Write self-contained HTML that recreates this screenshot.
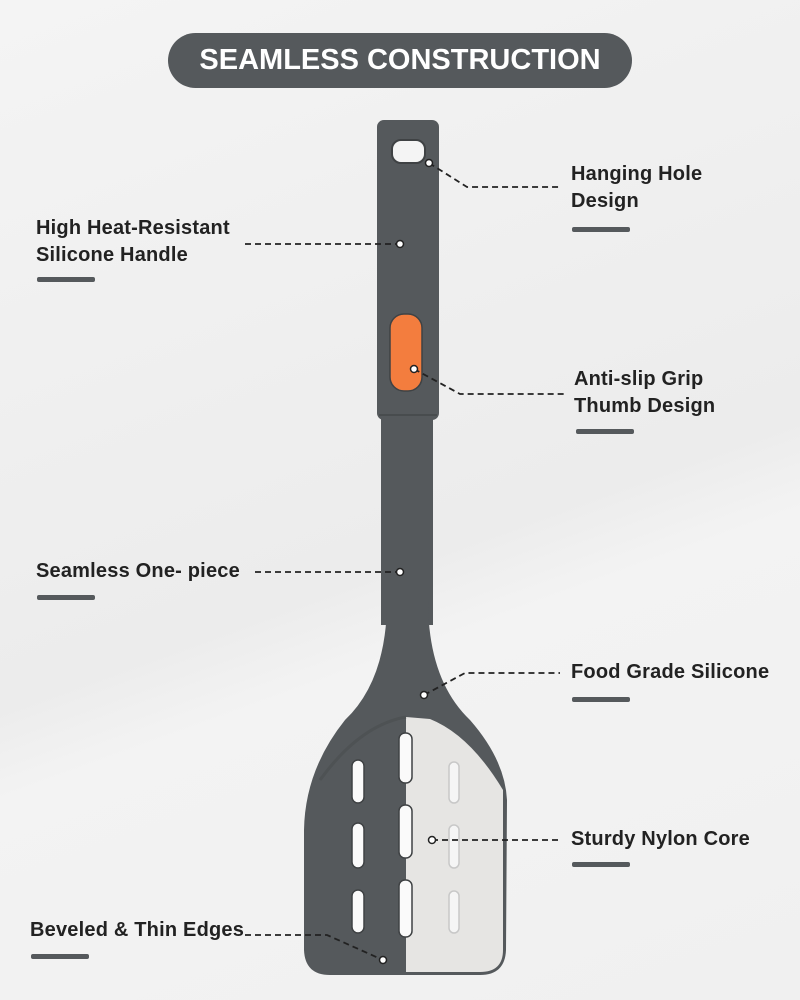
<!DOCTYPE html>
<html><head><style>
body{margin:0;width:800px;height:1000px;overflow:hidden;background:linear-gradient(160deg,#f4f4f4 0%,#ececec 55%,#f3f3f3 62%,#f0f0f0 100%);font-family:"Liberation Sans",sans-serif;position:relative}
.t{position:absolute;left:168px;top:33px;width:464px;height:55px;border-radius:28px;background:#55595c;color:#fff;font-weight:bold;font-size:29px;line-height:55px;text-align:center}
.l{position:absolute;font-weight:bold;font-size:20px;color:#222;line-height:27px;letter-spacing:0.2px}
.b{position:absolute;width:58px;height:5px;background:#55595c;border-radius:2px}
svg{position:absolute;left:0;top:0}
</style></head><body>
<div class="t">SEAMLESS CONSTRUCTION</div>
<svg width="800" height="1000">
<rect x="377" y="120" width="62" height="300" rx="7" fill="#55595c"/>
<rect x="381" y="415" width="52" height="210" fill="#55595c"/>
<line x1="379" y1="415" x2="437" y2="415" stroke="#45484a" stroke-width="1.5"/>
<path d="M387 600 L428 600 Q428 680 470 720 Q505 760 507 800 L506 950 Q505 975 480 975 L330 975 Q305 975 304 950 L304 830 Q305 770 345 720 Q387 680 387 600 Z" fill="#55595c"/>
<path d="M406 717 L406 972 L480 972 Q503 972 503 950 L503 790 Q470 735 430 719 Z" fill="#e6e5e3"/>
<path d="M406 717 Q360 725 320 780" stroke="#4e5254" stroke-width="3" fill="none"/>
<rect x="392" y="140" width="33" height="23" rx="9" fill="#f4f4f4" stroke="#3f4244" stroke-width="2"/>
<rect x="390" y="314" width="32" height="77" rx="14" fill="#f37d3e" stroke="#3f4244" stroke-width="1.5"/>
<g fill="#fafafa" stroke="#3f4244" stroke-width="1.5">
<rect x="352" y="760" width="12" height="43" rx="6"/><rect x="352" y="823" width="12" height="45" rx="6"/><rect x="352" y="890" width="12" height="43" rx="6"/>
<rect x="399" y="733" width="13" height="50" rx="6"/><rect x="399" y="805" width="13" height="53" rx="6"/><rect x="399" y="880" width="13" height="57" rx="6"/>
</g>
<g fill="#f5f5f5" stroke="#c8c8c8" stroke-width="1.5">
<rect x="449" y="762" width="10" height="41" rx="5"/><rect x="449" y="825" width="10" height="43" rx="5"/><rect x="449" y="891" width="10" height="42" rx="5"/>
</g>
<g stroke="#222" stroke-width="1.8" stroke-dasharray="6,4" fill="none">
<path d="M429 163 L467 187 L560 187"/>
<path d="M245 244 L400 244"/>
<path d="M414 369 L460 394 L565 394"/>
<path d="M255 572 L400 572"/>
<path d="M424 695 L465 673 L560 673"/>
<path d="M432 840 L560 840"/>
<path d="M245 935 L327 935 L383 960"/>
</g>
<g fill="#fff" stroke="#222" stroke-width="1.5">
<circle cx="429" cy="163" r="3.5"/><circle cx="400" cy="244" r="3.5"/><circle cx="414" cy="369" r="3.5"/><circle cx="400" cy="572" r="3.5"/><circle cx="424" cy="695" r="3.5"/><circle cx="432" cy="840" r="3.5"/><circle cx="383" cy="960" r="3.5"/>
</g>
</svg>
<div class="l" style="left:571px;top:161px">Hanging Hole<br>Design</div><div class="b" style="left:572px;top:227px"></div>
<div class="l" style="left:36px;top:215px">High Heat-Resistant<br>Silicone Handle</div><div class="b" style="left:37px;top:277px"></div>
<div class="l" style="left:574px;top:366px">Anti-slip Grip<br>Thumb Design</div><div class="b" style="left:576px;top:429px"></div>
<div class="l" style="left:36px;top:558px">Seamless One- piece</div><div class="b" style="left:37px;top:595px"></div>
<div class="l" style="left:571px;top:659px">Food Grade Silicone</div><div class="b" style="left:572px;top:697px"></div>
<div class="l" style="left:571px;top:826px">Sturdy Nylon Core</div><div class="b" style="left:572px;top:862px"></div>
<div class="l" style="left:30px;top:917px">Beveled &amp; Thin Edges</div><div class="b" style="left:31px;top:954px"></div>
</body></html>
